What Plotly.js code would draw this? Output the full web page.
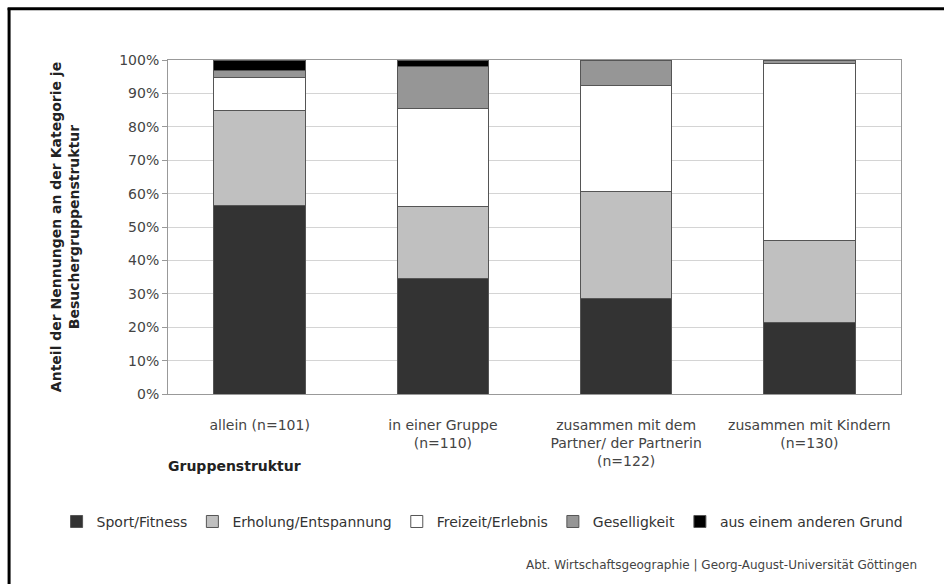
<!DOCTYPE html>
<html>
<head>
<meta charset="utf-8">
<script src="https://cdn.plot.ly/plotly-3.0.1.min.js"></script>
<style>html,body{margin:0;padding:0;background:#fff;}#chart{width:944px;height:584px;}</style>
</head>
<body>
<div id="chart"></div>
<script>
var categories = ["allein (n=101)", "in einer Gruppe<br>(n=110)", "zusammen mit dem<br>Partner/ der Partnerin<br>(n=122)", "zusammen mit Kindern<br>(n=130)"];
var sportFitness = [56.4, 34.5, 28.6, 21.4];
var erholung = [28.6, 21.6, 32.0, 24.5];
var freizeit = [9.8, 29.4, 31.9, 53.1];
var geselligkeit = [2.2, 12.5, 7.5, 1.0];
var andererGrund = [3.0, 2.0, 0.0, 0.0];
var seriesNames = ["Sport/Fitness", "Erholung/Entspannung", "Freizeit/Erlebnis", "Geselligkeit", "aus einem anderen Grund"];
var seriesColors = ["#333333", "#c0c0c0", "#ffffff", "#969696", "#000000"];
var yTickVals = [0, 10, 20, 30, 40, 50, 60, 70, 80, 90, 100];
var yTickText = ["0%", "10%", "20%", "30%", "40%", "50%", "60%", "70%", "80%", "90%", "100%"];

var seriesValues = [sportFitness, erholung, freizeit, geselligkeit, andererGrund];
var FONT = "DejaVu Sans, Arial, sans-serif";
var traces = seriesValues.map(function (vals, i) {
  return {
    type: "bar",
    name: seriesNames[i],
    x: categories,
    y: vals,
    marker: { color: seriesColors[i], line: { color: "#555555", width: 1 } },
    hoverinfo: "name+y"
  };
});

var layout = {
  width: 944,
  height: 584,
  barmode: "stack",
  bargap: 0.5,
  paper_bgcolor: "#ffffff",
  plot_bgcolor: "#ffffff",
  margin: { l: 168, r: 43, t: 60, b: 190, autoexpand: false },
  font: { family: FONT, size: 14, color: "#333333" },
  showlegend: true,
  legend: {
    orientation: "h",
    x: -0.152,
    xanchor: "left",
    y: -0.335,
    yanchor: "top",
    traceorder: "normal",
    font: { family: FONT, size: 14, color: "#333333" },
    itemwidth: 30,
    bgcolor: "rgba(0,0,0,0)"
  },
  xaxis: {
    type: "category",
    showgrid: false,
    showline: true,
    linecolor: "#999999",
    linewidth: 1,
    mirror: true,
    ticks: "",
    tickfont: { family: FONT, size: 14, color: "#444444" },
    ticklabelstandoff: 18,
    automargin: false
  },
  yaxis: {
    range: [0, 100],
    tickvals: yTickVals,
    ticktext: yTickText,
    showgrid: true,
    gridcolor: "#d4d4d4",
    gridwidth: 1,
    showline: true,
    linecolor: "#999999",
    linewidth: 1,
    mirror: true,
    ticks: "outside",
    ticklen: 5,
    tickcolor: "#999999",
    tickfont: { family: FONT, size: 14, color: "#444444" },
    automargin: false,
    zeroline: false,
    title: {
      text: "<b>Anteil der Nennungen an der Kategorie je<br>Besuchergruppenstruktur</b>",
      font: { family: FONT, size: 14, color: "#222222" },
      standoff: 36
    }
  },
  annotations: [
    {
      text: "<b>Gruppenstruktur</b>",
      xref: "paper", yref: "paper",
      x: -0.003, y: -0.216,
      xanchor: "left", yanchor: "middle",
      showarrow: false,
      font: { family: FONT, size: 14, color: "#222222" }
    },
    {
      text: "Abt. Wirtschaftsgeographie | Georg-August-Universität Göttingen",
      xref: "paper", yref: "paper",
      x: 1.0246, y: -0.512,
      xanchor: "right", yanchor: "middle",
      showarrow: false,
      font: { family: FONT, size: 12, color: "#444444" }
    }
  ],
  shapes: [
    {
      type: "line", xref: "paper", yref: "paper",
      x0: -0.2168, x1: -0.2168, y0: 1.156, y1: -0.62,
      line: { color: "#000000", width: 3 }
    },
    {
      type: "line", xref: "paper", yref: "paper",
      x0: -0.2188, x1: 1.08, y0: 1.1535, y1: 1.1535,
      line: { color: "#000000", width: 3 }
    }
  ]
};

Plotly.newPlot("chart", traces, layout, { displayModeBar: false, staticPlot: true });
</script>
</body>
</html>
